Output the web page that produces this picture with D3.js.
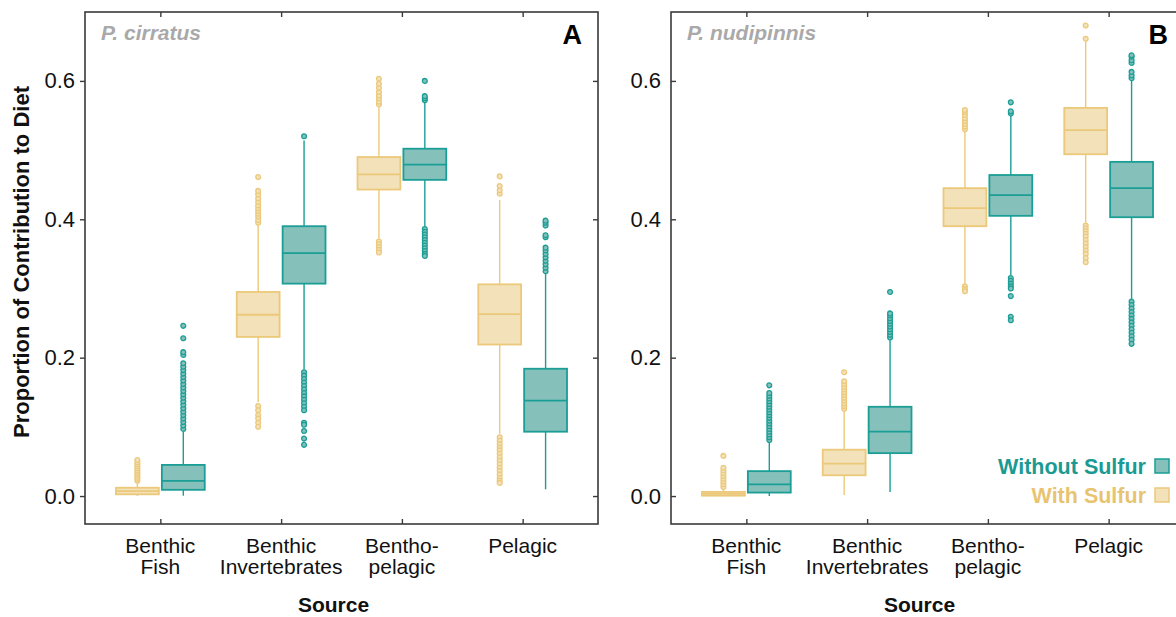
<!DOCTYPE html>
<html>
<head>
<meta charset="utf-8">
<script src="https://cdn.jsdelivr.net/npm/d3@7"></script>
<style>
  html, body { margin: 0; padding: 0; background: #fff; overflow: hidden; }
  svg { display: block; }
  text { font-family: "Liberation Sans", Arial, Helvetica, sans-serif; }
</style>
</head>
<body>
<svg id="chart" width="1200" height="617"></svg>
<script>
// categories and tick labels
const categories = ["Benthic Fish", "Benthic Invertebrates", "Bentho-pelagic", "Pelagic"];
const categoryLines = [["Benthic", "Fish"], ["Benthic", "Invertebrates"], ["Bentho-", "pelagic"], ["Pelagic"]];
const yTicks = [0.0, 0.2, 0.4, 0.6];
const seriesNames = ["With Sulfur", "Without Sulfur"];
const panelTitles = ["P. cirratus", "P. nudipinnis"];
const panelLetters = ["A", "B"];

// ---- P. cirratus (A), with sulfur
const aWithLo = [0.0, 0.136, 0.372, 0.090];
const aWithQ1 = [0.0025, 0.230, 0.443, 0.219];
const aWithMed = [0.007, 0.262, 0.465, 0.263];
const aWithQ3 = [0.012, 0.295, 0.490, 0.306];
const aWithHi = [0.020, 0.391, 0.562, 0.428];
const aWithOut = [
  [0.022, 0.025, 0.028, 0.031, 0.034, 0.037, 0.040, 0.043, 0.046, 0.049, 0.052],
  [0.395, 0.399, 0.404, 0.408, 0.412, 0.416, 0.420, 0.425, 0.430, 0.436, 0.441, 0.461,
   0.130, 0.124, 0.117, 0.112, 0.106, 0.100],
  [0.566, 0.570, 0.575, 0.579, 0.584, 0.590, 0.596, 0.603,
   0.368, 0.364, 0.360, 0.356, 0.352],
  [0.437, 0.442, 0.448, 0.462,
   0.085, 0.080, 0.075, 0.070, 0.066, 0.061, 0.056, 0.051, 0.046, 0.041, 0.036, 0.031, 0.026, 0.022, 0.019]
];

// ---- P. cirratus (A), without sulfur
const aWithoutLo = [0.0005, 0.183, 0.390, 0.0097];
const aWithoutQ1 = [0.009, 0.307, 0.457, 0.093];
const aWithoutMed = [0.022, 0.351, 0.479, 0.138];
const aWithoutQ3 = [0.045, 0.390, 0.502, 0.184];
const aWithoutHi = [0.093, 0.514, 0.568, 0.321];
const aWithoutOut = [
  [0.097, 0.102, 0.107, 0.112, 0.117, 0.122, 0.127, 0.132, 0.137, 0.142, 0.147, 0.152,
   0.157, 0.162, 0.167, 0.172, 0.177, 0.182, 0.187, 0.192, 0.204, 0.208, 0.228, 0.246],
  [0.520,
   0.179, 0.174, 0.169, 0.164, 0.159, 0.154, 0.149, 0.144, 0.139, 0.134, 0.129, 0.124,
   0.106, 0.103, 0.094, 0.083, 0.074],
  [0.572, 0.575, 0.578, 0.600,
   0.386, 0.382, 0.378, 0.374, 0.370, 0.366, 0.362, 0.358, 0.354, 0.350, 0.347],
  [0.325, 0.330, 0.335, 0.340, 0.345, 0.350, 0.355, 0.359, 0.374, 0.377, 0.391, 0.395, 0.398]
];

// ---- P. nudipinnis (B), with sulfur
const bWithLo = [0.0, 0.0014, 0.307, 0.395];
const bWithQ1 = [0.0005, 0.030, 0.390, 0.494];
const bWithMed = [0.003, 0.047, 0.416, 0.529];
const bWithQ3 = [0.006, 0.067, 0.445, 0.561];
const bWithHi = [0.010, 0.122, 0.526, 0.661];
const bWithOut = [
  [0.013, 0.017, 0.021, 0.025, 0.029, 0.033, 0.037, 0.041, 0.058],
  [0.126, 0.130, 0.134, 0.138, 0.142, 0.146, 0.150, 0.154, 0.158, 0.162, 0.166, 0.179],
  [0.530, 0.534, 0.538, 0.542, 0.546, 0.551, 0.555, 0.558, 0.303, 0.299, 0.296],
  [0.680, 0.661,
   0.391, 0.387, 0.383, 0.379, 0.375, 0.370, 0.365, 0.360, 0.355, 0.350, 0.344, 0.338]
];

// ---- P. nudipinnis (B), without sulfur
const bWithoutLo = [0.0, 0.006, 0.319, 0.285];
const bWithoutQ1 = [0.005, 0.062, 0.405, 0.403];
const bWithoutMed = [0.017, 0.093, 0.435, 0.445];
const bWithoutQ3 = [0.036, 0.129, 0.464, 0.483];
const bWithoutHi = [0.078, 0.225, 0.550, 0.600];
const bWithoutOut = [
  [0.081, 0.085, 0.089, 0.093, 0.097, 0.101, 0.105, 0.109, 0.113, 0.117, 0.121, 0.125,
   0.129, 0.133, 0.137, 0.141, 0.145, 0.149, 0.160],
  [0.229, 0.233, 0.237, 0.241, 0.245, 0.249, 0.253, 0.257, 0.261, 0.264, 0.295],
  [0.553, 0.556, 0.569, 0.315, 0.311, 0.307, 0.303, 0.300, 0.289, 0.259, 0.254],
  [0.604, 0.608, 0.613, 0.626, 0.630, 0.635, 0.637,
   0.281, 0.276, 0.271, 0.266, 0.261, 0.256, 0.251, 0.246, 0.241, 0.236, 0.231, 0.226, 0.220]
];

const YELLOW_LINE = "#ecc97a";
const YELLOW_FILL = "#f2e1b9";
const TEAL_LINE = "#1a9e96";
const TEAL_FILL = "#86c0bb";
const FRAME = "#3a3a3a";

const PANEL_TOP = 12;
const PANEL_HEIGHT = 512;
const PANEL_WIDTH = 513;
const PANEL_LEFTS = [85, 671];

const svg = d3.select("#chart");

const y = d3.scaleLinear().domain([-0.0404, 0.6996]).range([PANEL_TOP + PANEL_HEIGHT, PANEL_TOP]);

/**
 * Builds the list of box summaries for one series
 */
function makeSeries(lo, q1, med, q3, hi, out) {
  return categories.map((c, i) => ({
    cat: c, lo: lo[i], q1: q1[i], med: med[i], q3: q3[i], hi: hi[i], out: out[i]
  }));
}

/**
 * Draws one series of boxes
 */
function drawBoxes(g, x, data, offset, line, fill) {
  const bw = x.step() * 0.355;
  const groups = g.append("g").selectAll("g").data(data).join("g")
    .attr("transform", d => `translate(${x(d.cat) + offset},0)`);

  // whiskers
  groups.append("line")
    .attr("x1", 0).attr("x2", 0)
    .attr("y1", d => y(d.lo)).attr("y2", d => y(d.q1))
    .attr("stroke", line).attr("stroke-width", 1.4);
  groups.append("line")
    .attr("x1", 0).attr("x2", 0)
    .attr("y1", d => y(d.q3)).attr("y2", d => y(d.hi))
    .attr("stroke", line).attr("stroke-width", 1.4);

  // outliers
  groups.selectAll("circle").data(d => d.out).join("circle")
    .attr("cx", 0).attr("cy", v => y(v)).attr("r", 2.4)
    .attr("fill", fill).attr("stroke", line).attr("stroke-width", 1.3);

  // box
  groups.append("rect")
    .attr("x", -bw / 2).attr("width", bw)
    .attr("y", d => y(d.q3))
    .attr("height", d => Math.max(1, y(d.q1) - y(d.q3)))
    .attr("fill", fill).attr("stroke", line).attr("stroke-width", 1.8);

  // median
  groups.append("line")
    .attr("x1", -bw / 2).attr("x2", bw / 2)
    .attr("y1", d => y(d.med)).attr("y2", d => y(d.med))
    .attr("stroke", line).attr("stroke-width", 1.8);
}

/**
 * Draws one panel: frame, axes, boxes, labels
 */
function drawPanel(idx, withSeries, withoutSeries) {
  const left = PANEL_LEFTS[idx];
  const x = d3.scalePoint().domain(categories).range([left, left + PANEL_WIDTH]).padding(0.624);
  const g = svg.append("g");
  const step = x.step();

  drawBoxes(g, x, withSeries, -step * 0.19, YELLOW_LINE, YELLOW_FILL);
  drawBoxes(g, x, withoutSeries, step * 0.19, TEAL_LINE, TEAL_FILL);

  // frame
  g.append("rect")
    .attr("x", left).attr("y", PANEL_TOP)
    .attr("width", PANEL_WIDTH).attr("height", PANEL_HEIGHT)
    .attr("fill", "none").attr("stroke", FRAME).attr("stroke-width", 1.6);

  // left axis with labels
  const leftAxis = g.append("g")
    .attr("transform", `translate(${left},0)`)
    .call(d3.axisLeft(y).tickValues(yTicks).tickFormat(d3.format(".1f"))
      .tickSize(idx === 0 ? 5 : -5).tickPadding(idx === 0 ? 5 : 10));
  leftAxis.select(".domain").remove();
  leftAxis.selectAll("line").attr("stroke", FRAME).attr("stroke-width", 1.4);
  leftAxis.selectAll("text")
    .attr("fill", "#111").style("font-size", "22px")
    .style("font-family", "'Liberation Sans', Arial, sans-serif");

  // mirrored ticks (inside)
  const rightAxis = g.append("g")
    .attr("transform", `translate(${left + PANEL_WIDTH},0)`)
    .call(d3.axisRight(y).tickValues(yTicks).tickFormat("").tickSize(-5));
  rightAxis.select(".domain").remove();
  rightAxis.selectAll("line").attr("stroke", FRAME).attr("stroke-width", 1.4);

  const topAxis = g.append("g")
    .attr("transform", `translate(0,${PANEL_TOP})`)
    .call(d3.axisTop(x).tickFormat("").tickSize(-5));
  topAxis.select(".domain").remove();
  topAxis.selectAll("line").attr("stroke", FRAME).attr("stroke-width", 1.4);

  const bottomAxis = g.append("g")
    .attr("transform", `translate(0,${PANEL_TOP + PANEL_HEIGHT})`)
    .call(d3.axisBottom(x).tickFormat("").tickSize(-5));
  bottomAxis.select(".domain").remove();
  bottomAxis.selectAll("line").attr("stroke", FRAME).attr("stroke-width", 1.4);

  // category labels (two lines)
  const labels = g.append("g").selectAll("text").data(categories).join("text")
    .attr("x", d => x(d))
    .attr("y", 553)
    .attr("text-anchor", "middle")
    .attr("fill", "#111")
    .style("font-size", "21px");
  labels.selectAll("tspan").data((d, i) => categoryLines[i]).join("tspan")
    .attr("x", function () { return d3.select(this.parentNode).attr("x"); })
    .attr("dy", (d, i) => (i === 0 ? 0 : 21))
    .text(d => d);

  // x title
  g.append("text")
    .attr("x", left + PANEL_WIDTH / 2 - 8).attr("y", 612)
    .attr("text-anchor", "middle")
    .attr("fill", "#111")
    .style("font-size", "21px").style("font-weight", "bold")
    .text("Source");

  // species and panel letter
  g.append("text")
    .attr("x", left + 16).attr("y", 40)
    .attr("fill", "#a9a9a9")
    .style("font-size", "21px").style("font-weight", "bold").style("font-style", "italic")
    .text(panelTitles[idx]);
  g.append("text")
    .attr("x", left + PANEL_WIDTH - 16).attr("y", 44)
    .attr("text-anchor", "end")
    .attr("fill", "#000")
    .style("font-size", "27px").style("font-weight", "bold")
    .text(panelLetters[idx]);

  return x;
}

drawPanel(0,
  makeSeries(aWithLo, aWithQ1, aWithMed, aWithQ3, aWithHi, aWithOut),
  makeSeries(aWithoutLo, aWithoutQ1, aWithoutMed, aWithoutQ3, aWithoutHi, aWithoutOut));
drawPanel(1,
  makeSeries(bWithLo, bWithQ1, bWithMed, bWithQ3, bWithHi, bWithOut),
  makeSeries(bWithoutLo, bWithoutQ1, bWithoutMed, bWithoutQ3, bWithoutHi, bWithoutOut));

// y title
svg.append("text")
  .attr("transform", `translate(29,${PANEL_TOP + PANEL_HEIGHT / 2 - 6}) rotate(-90)`)
  .attr("text-anchor", "middle")
  .attr("fill", "#111")
  .style("font-size", "22px").style("font-weight", "bold")
  .text("Proportion of Contribution to Diet");

// legend inside panel B
const legend = svg.append("g");
const legendItems = [
  { name: seriesNames[1], line: TEAL_LINE, fill: TEAL_FILL, text: "#1a9a92", y: 474 },
  { name: seriesNames[0], line: YELLOW_LINE, fill: YELLOW_FILL, text: "#e8c470", y: 503 }
];
const li = legend.selectAll("g").data(legendItems).join("g");
li.append("text")
  .attr("x", 1146).attr("y", d => d.y)
  .attr("text-anchor", "end")
  .attr("fill", d => d.text)
  .style("font-size", "21.5px").style("font-weight", "bold")
  .text(d => d.name);
li.append("rect")
  .attr("x", 1155).attr("y", d => d.y - 15)
  .attr("width", 14).attr("height", 14)
  .attr("fill", d => d.fill).attr("stroke", d => d.line).attr("stroke-width", 1.5);
</script>
</body>
</html>
